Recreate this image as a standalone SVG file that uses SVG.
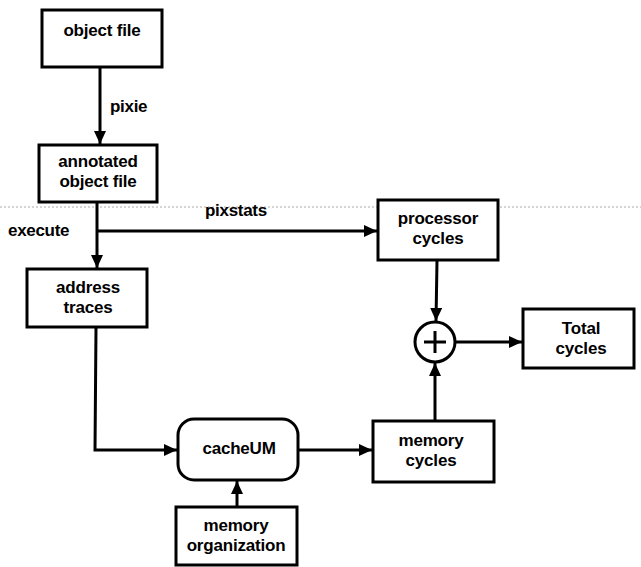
<svg xmlns="http://www.w3.org/2000/svg" width="641" height="567" viewBox="0 0 641 567">
<style>
.box{fill:#fff;stroke:#000;stroke-width:3}
.ln{fill:none;stroke:#000;stroke-width:3}
.t{font-family:"Liberation Sans",Arial,sans-serif;font-weight:bold;font-size:17px;fill:#000;text-anchor:middle;letter-spacing:-0.2px}
.lbl{font-family:"Liberation Sans",Arial,sans-serif;font-weight:bold;font-size:17px;fill:#000;letter-spacing:-0.3px}
</style>
<defs>
<marker id="ah" markerUnits="userSpaceOnUse" markerWidth="14" markerHeight="12" refX="13" refY="6" orient="auto">
<path d="M0,0 L13,6 L0,12 Z" fill="#000"/>
</marker>
</defs>
<rect width="641" height="567" fill="#fff"/>
<line x1="0" y1="207" x2="641" y2="207" stroke="#aaa" stroke-width="1" stroke-dasharray="2,2"/>
<g id="connectors">
<line class="ln" x1="100" y1="67" x2="100" y2="144" marker-end="url(#ah)"/>
<line class="ln" x1="97" y1="203" x2="97" y2="268" marker-end="url(#ah)"/>
<line class="ln" x1="97" y1="231" x2="377" y2="231" marker-end="url(#ah)"/>
<line class="ln" x1="437" y1="261" x2="436" y2="321" marker-end="url(#ah)"/>
<line class="ln" x1="435" y1="421" x2="435" y2="363" marker-end="url(#ah)"/>
<line class="ln" x1="456" y1="342" x2="522" y2="342" marker-end="url(#ah)"/>
<polyline class="ln" points="96,328 95,450 177,450" marker-end="url(#ah)"/>
<line class="ln" x1="299" y1="450" x2="372" y2="450" marker-end="url(#ah)"/>
<line class="ln" x1="237" y1="507" x2="237" y2="481" marker-end="url(#ah)"/>
<text class="lbl" x="110" y="112">pixie</text>
<text class="lbl" x="8" y="236">execute</text>
<text class="lbl" x="205" y="216">pixstats</text>
</g>
<g id="object-file">
<rect class="box" x="42" y="10" width="120" height="57"/>
<text class="t" x="102" y="36">object file</text>
</g>
<g id="annotated-object-file">
<rect class="box" x="39" y="145" width="118" height="57"/>
<text class="t" x="98" y="167">annotated</text>
<text class="t" x="98" y="187">object file</text>
</g>
<g id="address-traces">
<rect class="box" x="27" y="269" width="120" height="58"/>
<text class="t" x="88" y="293">address</text>
<text class="t" x="88" y="313">traces</text>
</g>
<g id="processor-cycles">
<rect class="box" x="378" y="200" width="120" height="60"/>
<text class="t" x="438" y="224">processor</text>
<text class="t" x="438" y="244">cycles</text>
</g>
<g id="sum">
<circle class="box" cx="435" cy="342" r="20"/>
<line class="ln" x1="424" y1="342" x2="446" y2="342" stroke-width="2.5"/>
<line class="ln" x1="435" y1="331" x2="435" y2="353" stroke-width="2.5"/>
</g>
<g id="total-cycles">
<rect class="box" x="523" y="309" width="111" height="59"/>
<text class="t" x="581" y="334">Total</text>
<text class="t" x="581" y="354">cycles</text>
</g>
<g id="cacheUM">
<rect class="box" x="178" y="419" width="120" height="61" rx="16" ry="16"/>
<text class="t" x="239" y="454">cacheUM</text>
</g>
<g id="memory-cycles">
<rect class="box" x="373" y="421" width="121" height="61"/>
<text class="t" x="431" y="446">memory</text>
<text class="t" x="431" y="466">cycles</text>
</g>
<g id="memory-organization">
<rect class="box" x="176" y="507" width="121" height="58"/>
<text class="t" x="236" y="531">memory</text>
<text class="t" x="236" y="551">organization</text>
</g>
</svg>
